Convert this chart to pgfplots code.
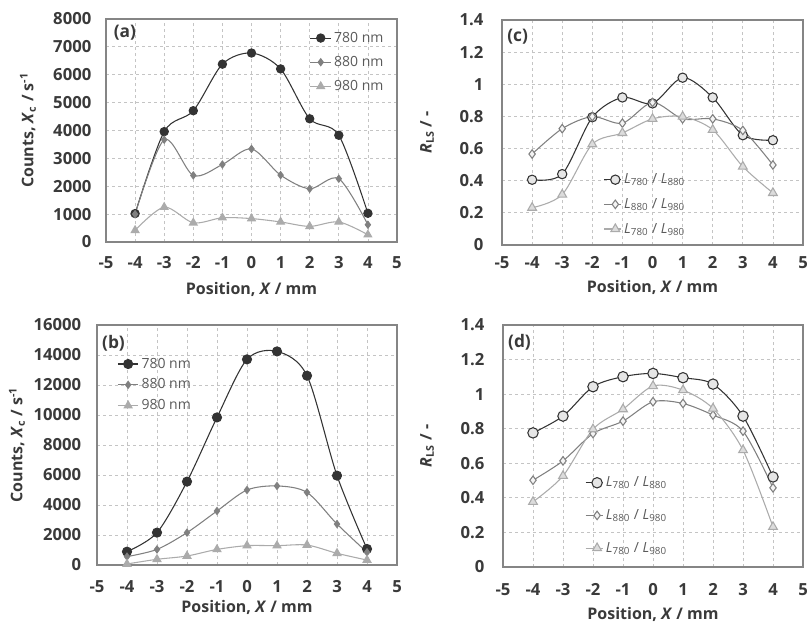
\documentclass[border=0pt]{standalone}
\usepackage{fontspec}
\setmainfont{Open Sans}
\usepackage{pgfplots}
\pgfplotsset{compat=1.18}

\definecolor{cDark}{HTML}{333333}
\definecolor{cMid}{HTML}{808080}
\definecolor{cLight}{HTML}{ABABAB}
\definecolor{cFrame}{HTML}{858585}
\definecolor{cGrid}{HTML}{C4C4C4}
\definecolor{cText}{HTML}{3A3A3A}
\definecolor{cLeg}{HTML}{5A5A5A}
\definecolor{fCirc}{HTML}{E6E6E6}
\definecolor{fDiam}{HTML}{F4F4F4}
\definecolor{fTri}{HTML}{DCDCDC}

\tikzset{panlab/.style={font=\fontsize{13}{15}\selectfont\bfseries, text=cText}}

\pgfplotsset{
  panel/.style={
    scale only axis,
    xmin=-5, xmax=5, xtick={-5,...,5},
    axis line style={draw=cFrame, line width=0.9pt},
    grid=major,
    grid style={cGrid, line width=0.6pt, dash pattern=on 2.5pt off 2pt},
    tick style={draw=none},
    tick label style={font=\fontsize{12.5}{14}\selectfont\bfseries, text=cText},
    /pgf/number format/assume math mode=true,
    /pgf/number format/set thousands separator={},
    scaled y ticks=false,
    label style={font=\fontsize{12}{14}\selectfont\bfseries, text=cText},
    legend cell align=left,
    legend style={draw=none, fill=none, inner sep=0pt, anchor=north west,
      font=\fontsize{10.5}{12}\selectfont, text=cLeg},
    legend image code/.code={
      \draw[mark repeat=2, mark phase=2]
        plot coordinates {(0cm,0cm) (0.27cm,0cm) (0.54cm,0cm)};},
    every axis plot/.append style={line width=0.8pt},
  },
  counts/.style={ytick distance=#1,
    ylabel={Counts, \textit{X}\textsubscript{c} / s\textsuperscript{-1}}},
  ratio/.style={ymin=0, ymax=1.4, ytick={0,0.2,0.4,0.6,0.8,1,1.2,1.4},
    ylabel={\textit{R}\textsubscript{LS} / -},
    legend image code/.code={
      \draw[mark repeat=2, mark phase=2]
        plot coordinates {(0cm,0cm) (0.3cm,0cm) (0.45cm,0cm)};}},
  sA/.style={cDark, mark=*, mark size=#1, mark options={fill=cDark}},
  sB/.style={cMid, mark=diamond*, mark size=#1, mark options={fill=cMid}},
  sC/.style={cLight, mark=triangle*, mark size=#1, mark options={fill=cLight}},
  rA/.style={cDark, mark=*, mark size=#1, mark options={fill=fCirc, draw=cDark}},
  rB/.style={cMid, mark=diamond*, mark size=#1, mark options={fill=fDiam, draw=cMid}},
  rC/.style={cLight, mark=triangle*, mark size=#1, mark options={fill=fTri, draw=cLight}},
}

\begin{document}
\begin{tikzpicture}
\useasboundingbox (0,0) rectangle (606.75pt,-468.75pt);

% (a) counts, top left
\begin{axis}[panel, counts=1000,
  at={(79.5pt,-181.5pt)}, anchor=south west,
  width=218.25pt, height=167.25pt,
  ymin=0, ymax=8000,
  xticklabel style={yshift=-7.5pt},
  yticklabel style={xshift=-7.5pt},
  xlabel={Position, \textit{X} / mm},
  xlabel style={at={(axis description cs:0.5,-0.215)}, anchor=center},
  ylabel style={at={(axis description cs:-0.268,0.5)}, anchor=center},
  legend style={at={(axis description cs:0.70,0.955)}, row sep=5pt},
]
\addplot+[sA=3.1pt, smooth] coordinates {
(-4,1020) (-3,3960) (-2,4710) (-1,6380) (0,6780) (1,6210) (2,4420) (3,3830) (4,1030)};
\addlegendentry{780 nm}
\addplot+[sB=2.6pt, smooth] coordinates {
(-4,1000) (-3,3670) (-2,2390) (-1,2780) (0,3340) (1,2400) (2,1910) (3,2270) (4,620)};
\addlegendentry{880 nm}
\addplot+[sC=3.3pt, smooth] coordinates {
(-4,420) (-3,1250) (-2,690) (-1,870) (0,840) (1,720) (2,560) (3,720) (4,260)};
\addlegendentry{980 nm}
\node[panlab] at (rel axis cs:0.065,0.937) {(a)};
\end{axis}

% (c) ratios, top right
\begin{axis}[panel, ratio,
  at={(376.5pt,-183.75pt)}, anchor=south west,
  width=225.75pt, height=168.75pt,
  xticklabel style={yshift=-5.2pt},
  yticklabel style={xshift=-10.5pt},
  xlabel={Position, \textit{X} / mm},
  xlabel style={at={(axis description cs:0.5,-0.187)}, anchor=center},
  ylabel style={at={(axis description cs:-0.249,0.5)}, anchor=center},
  legend style={at={(axis description cs:0.336,0.33)}, row sep=5.5pt},
]
\addplot+[rA=3.5pt, smooth] coordinates {
(-4,0.406) (-3,0.441) (-2,0.795) (-1,0.918) (0,0.881) (1,1.041) (2,0.918) (3,0.683) (4,0.652)};
\addlegendentry{\textit{L}\textsubscript{780} / \textit{L}\textsubscript{880}}
\addplot+[rB=3.2pt, smooth] coordinates {
(-4,0.566) (-3,0.724) (-2,0.799) (-1,0.758) (0,0.887) (1,0.785) (2,0.785) (3,0.713) (4,0.498)};
\addlegendentry{\textit{L}\textsubscript{880} / \textit{L}\textsubscript{980}}
\addplot+[rC=3.8pt, smooth] coordinates {
(-4,0.232) (-3,0.314) (-2,0.627) (-1,0.697) (0,0.785) (1,0.799) (2,0.717) (3,0.488) (4,0.324)};
\addlegendentry{\textit{L}\textsubscript{780} / \textit{L}\textsubscript{980}}
\node[panlab] at (rel axis cs:0.052,0.924) {(c)};
\end{axis}

% (b) counts, bottom left
\begin{axis}[panel, counts=2000,
  at={(72.75pt,-423.75pt)}, anchor=south west,
  width=225pt, height=180pt,
  ymin=0, ymax=16000,
  xticklabel style={yshift=-8.2pt},
  yticklabel style={xshift=-8.3pt},
  xlabel={Position, \textit{X} / mm},
  xlabel style={at={(axis description cs:0.5,-0.175)}, anchor=center},
  ylabel style={at={(axis description cs:-0.267,0.5)}, anchor=center},
  legend style={at={(axis description cs:0.067,0.875)}, row sep=2.5pt},
]
\addplot+[sA=3.4pt, smooth] coordinates {
(-4,890) (-3,2160) (-2,5560) (-1,9840) (0,13710) (1,14240) (2,12620) (3,5960) (4,1070)};
\addlegendentry{780 nm}
\addplot+[sB=2.6pt, smooth] coordinates {
(-4,560) (-3,1040) (-2,2160) (-1,3600) (0,5000) (1,5270) (2,4840) (3,2730) (4,850)};
\addlegendentry{880 nm}
\addplot+[sC=3.4pt, smooth] coordinates {
(-4,70) (-3,380) (-2,600) (-1,1040) (0,1290) (1,1290) (2,1330) (3,780) (4,330)};
\addlegendentry{980 nm}
\node[panlab] at (rel axis cs:0.055,0.925) {(b)};
\end{axis}

% (d) ratios, bottom right
\begin{axis}[panel, ratio,
  at={(377.25pt,-425.25pt)}, anchor=south west,
  width=225pt, height=181.5pt,
  xticklabel style={yshift=-9pt},
  yticklabel style={xshift=-10.5pt},
  xlabel={Position, \textit{X} / mm},
  xlabel style={at={(axis description cs:0.5,-0.198)}, anchor=center},
  ylabel style={at={(axis description cs:-0.253,0.5)}, anchor=center},
  legend style={at={(axis description cs:0.273,0.385)}, row sep=11.5pt},
]
\addplot+[rA=3.9pt, smooth] coordinates {
(-4,0.776) (-3,0.873) (-2,1.043) (-1,1.101) (0,1.120) (1,1.095) (2,1.058) (3,0.873) (4,0.521)};
\addlegendentry{\textit{L}\textsubscript{780} / \textit{L}\textsubscript{880}}
\addplot+[rB=3.2pt, smooth] coordinates {
(-4,0.502) (-3,0.614) (-2,0.772) (-1,0.844) (0,0.956) (1,0.946) (2,0.879) (3,0.786) (4,0.458)};
\addlegendentry{\textit{L}\textsubscript{880} / \textit{L}\textsubscript{980}}
\addplot+[rC=3.8pt, smooth] coordinates {
(-4,0.377) (-3,0.527) (-2,0.797) (-1,0.913) (0,1.047) (1,1.023) (2,0.917) (3,0.676) (4,0.232)};
\addlegendentry{\textit{L}\textsubscript{780} / \textit{L}\textsubscript{980}}
\node[panlab] at (rel axis cs:0.055,0.93) {(d)};
\end{axis}
\end{tikzpicture}
\end{document}
